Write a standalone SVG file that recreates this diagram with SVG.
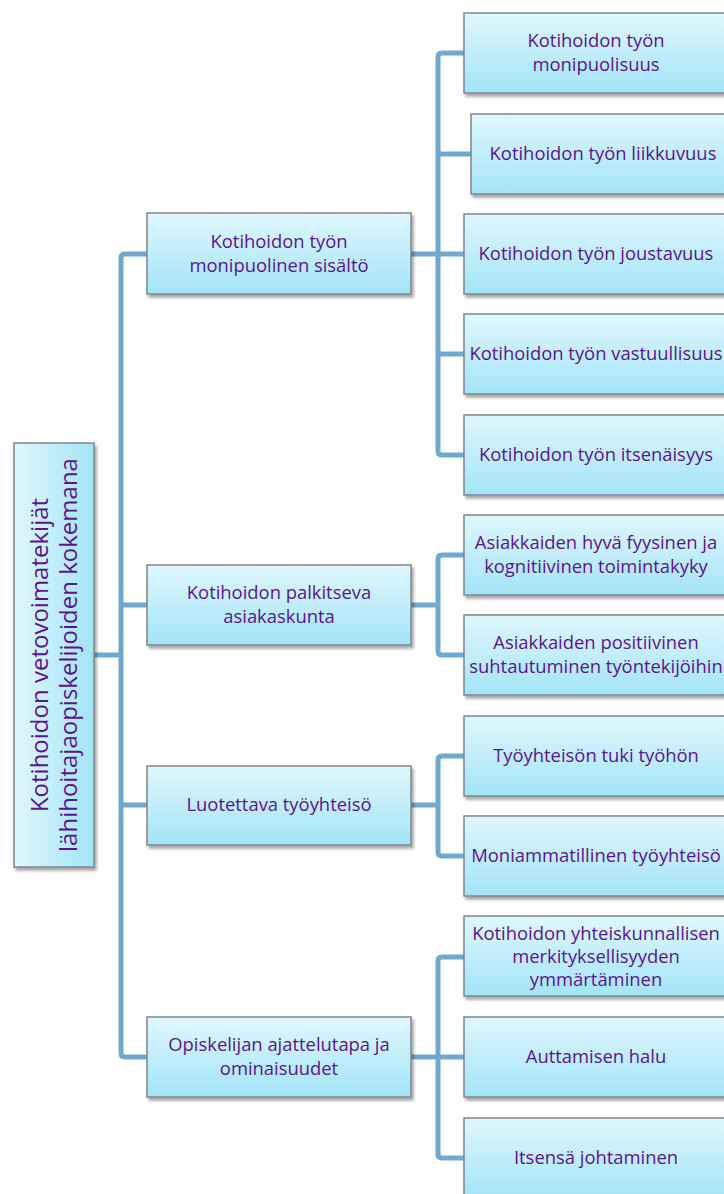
<svg xmlns="http://www.w3.org/2000/svg" width="724" height="1194" viewBox="0 0 724 1194">
<defs>
<linearGradient id="g" x1="0" y1="0" x2="0" y2="1">
<stop offset="0" stop-color="#e0f7fd"/>
<stop offset="1" stop-color="#a3e4f7"/>
</linearGradient>
<linearGradient id="gr" x1="0" y1="0" x2="1" y2="0">
<stop offset="0" stop-color="#e0f7fd"/>
<stop offset="1" stop-color="#a3e4f7"/>
</linearGradient>
<filter id="sh" x="-10%" y="-10%" width="130%" height="130%">
<feDropShadow dx="2" dy="3" stdDeviation="1.8" flood-color="#000" flood-opacity="0.35"/>
</filter>
</defs>
<style>
.box{fill:url(#g);stroke:#7d878b;stroke-width:1.5;filter:url(#sh)}
.rbox{fill:url(#gr);stroke:#7d878b;stroke-width:1.5;filter:url(#sh)}
text{font-family:"Open Sans","Liberation Sans",sans-serif;font-size:18.4px;fill:#5a148f;text-anchor:middle}
.root{font-size:24px}
.c{fill:none;stroke:#70a8cf;stroke-width:5;stroke-linejoin:round;stroke-linecap:butt}
</style>
<g id="connectors">
<path class="c" d="M94 655H121"/>
<path class="c" d="M147 254H125Q121 254 121 258V1053Q121 1057 125 1057H147"/>
<path class="c" d="M121 605H147M121 805H147"/>
<path class="c" d="M411 254H438"/>
<path class="c" d="M464 53H442Q438 53 438 57V451Q438 455 442 455H464"/>
<path class="c" d="M438 154H471M438 254H464M438 354H464"/>
<path class="c" d="M411 605H438"/>
<path class="c" d="M464 555H442Q438 555 438 559V651Q438 655 442 655H464"/>
<path class="c" d="M411 805H438"/>
<path class="c" d="M464 756H442Q438 756 438 760V852Q438 856 442 856H464"/>
<path class="c" d="M411 1057H438"/>
<path class="c" d="M464 957H442Q438 957 438 961V1154Q438 1158 442 1158H464"/>
<path class="c" d="M438 1057H464"/>
</g>
<g id="root">
<rect class="rbox" x="14" y="443" width="80" height="424"/>
<text class="root" transform="rotate(-90 54 655)"><tspan x="54" y="649">Kotihoidon vetovoimatekijät</tspan><tspan x="54" y="678">lähihoitajaopiskelijoiden kokemana</tspan></text>
</g>
<g id="l1-1">
<rect class="box" x="147" y="213" width="264" height="81"/>
<text><tspan x="279" y="248">Kotihoidon työn</tspan><tspan x="279" y="272">monipuolinen sisältö</tspan></text>
</g>
<g id="l1-2">
<rect class="box" x="147" y="565" width="264" height="80"/>
<text><tspan x="279" y="599">Kotihoidon palkitseva</tspan><tspan x="279" y="623">asiakaskunta</tspan></text>
</g>
<g id="l1-3">
<rect class="box" x="147" y="766" width="264" height="79"/>
<text x="279" y="811">Luotettava työyhteisö</text>
</g>
<g id="l1-4">
<rect class="box" x="147" y="1017" width="264" height="80"/>
<text><tspan x="279" y="1051">Opiskelijan ajattelutapa ja</tspan><tspan x="279" y="1075">ominaisuudet</tspan></text>
</g>
<g id="l2-1">
<rect class="box" x="464" y="13" width="264" height="80"/>
<text><tspan x="596" y="47">Kotihoidon työn</tspan><tspan x="596" y="71">monipuolisuus</tspan></text>
</g>
<g id="l2-2">
<rect class="box" x="471" y="114" width="264" height="80"/>
<text x="603" y="160">Kotihoidon työn liikkuvuus</text>
</g>
<g id="l2-3">
<rect class="box" x="464" y="214" width="264" height="80"/>
<text x="596" y="260">Kotihoidon työn joustavuus</text>
</g>
<g id="l2-4">
<rect class="box" x="464" y="314" width="264" height="80"/>
<text x="596" y="360">Kotihoidon työn vastuullisuus</text>
</g>
<g id="l2-5">
<rect class="box" x="464" y="415" width="264" height="80"/>
<text x="596" y="461">Kotihoidon työn itsenäisyys</text>
</g>
<g id="l2-6">
<rect class="box" x="464" y="515" width="264" height="80"/>
<text><tspan x="596" y="549">Asiakkaiden hyvä fyysinen ja</tspan><tspan x="596" y="573">kognitiivinen toimintakyky</tspan></text>
</g>
<g id="l2-7">
<rect class="box" x="464" y="615" width="264" height="80"/>
<text><tspan x="596" y="649">Asiakkaiden positiivinen</tspan><tspan x="596" y="673">suhtautuminen työntekijöihin</tspan></text>
</g>
<g id="l2-8">
<rect class="box" x="464" y="716" width="264" height="80"/>
<text x="596" y="762">Työyhteisön tuki työhön</text>
</g>
<g id="l2-9">
<rect class="box" x="464" y="816" width="264" height="80"/>
<text x="596" y="862">Moniammatillinen työyhteisö</text>
</g>
<g id="l2-10">
<rect class="box" x="464" y="916" width="264" height="80"/>
<text><tspan x="596" y="940">Kotihoidon yhteiskunnallisen</tspan><tspan x="596" y="963">merkityksellisyyden</tspan><tspan x="596" y="986">ymmärtäminen</tspan></text>
</g>
<g id="l2-11">
<rect class="box" x="464" y="1017" width="264" height="80"/>
<text x="596" y="1063">Auttamisen halu</text>
</g>
<g id="l2-12">
<rect class="box" x="464" y="1118" width="264" height="80"/>
<text x="596" y="1164">Itsensä johtaminen</text>
</g>
</svg>
